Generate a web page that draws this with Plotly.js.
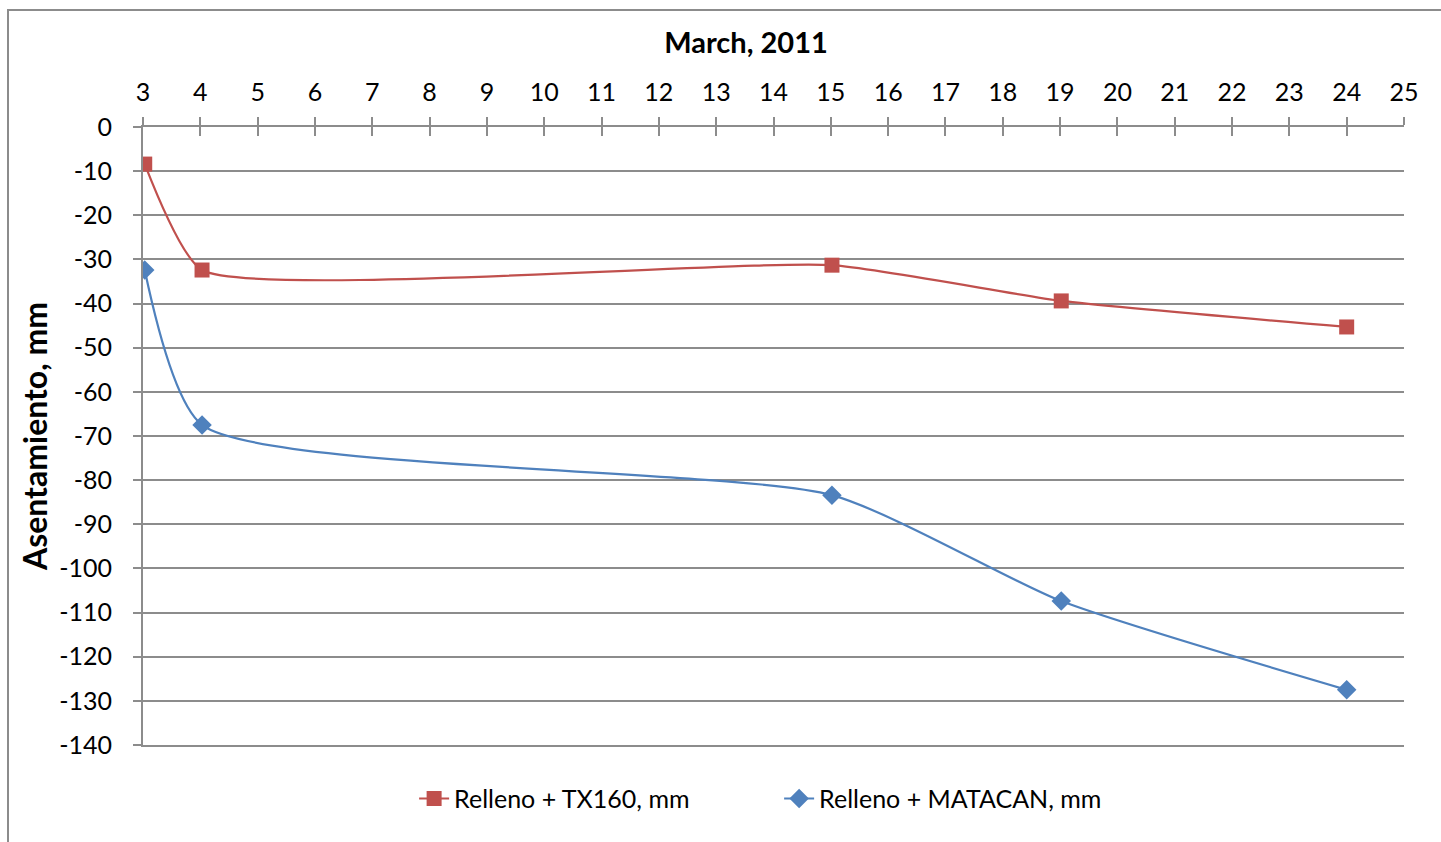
<!DOCTYPE html>
<html>
<head>
<meta charset="utf-8">
<script src="https://cdn.plot.ly/plotly-3.0.1.min.js"></script>
<style>
html,body{margin:0;padding:0;overflow:hidden;background:#fff;}
#frame{position:absolute;left:7px;top:9px;width:1600px;height:1000px;border:2px solid #8c8c8c;box-sizing:border-box;pointer-events:none;z-index:5;}
#chart{position:absolute;left:0;top:0;width:1441px;height:842px;}
</style>
</head>
<body>
<div id="chart"></div>
<div id="frame"></div>
<script>
// Data
const days = [3.03, 4.03, 15.02, 19.02, 24.0];
const tx160 = [-8.4, -32.4, -31.3, -39.4, -45.3];
const matacan = [-32.4, -67.5, -83.4, -107.4, -127.5];
const seriesNames = ['Relleno + TX160, mm', 'Relleno + MATACAN, mm'];
const xTickVals = [3,4,5,6,7,8,9,10,11,12,13,14,15,16,17,18,19,20,21,22,23,24,25];
const yTickVals = [0,-10,-20,-30,-40,-50,-60,-70,-80,-90,-100,-110,-120,-130,-140];
const yTickText = ['0','-10','-20','-30','-40','-50','-60','-70','-80','-90','-100','-110','-120','-130','-140'];

const FONT = 'Lato, "Open Sans", sans-serif';
const GRID = '#8c8c8c';

const traces = [
  {x: days, y: tx160, name: seriesNames[0], type: 'scatter', mode: 'lines+markers',
   line: {color: '#C0504D', width: 2.2, shape: 'spline', smoothing: 0.5},
   marker: {symbol: 'square', size: 15, color: '#C0504D'}},
  {x: days, y: matacan, name: seriesNames[1], type: 'scatter', mode: 'lines+markers',
   line: {color: '#4F81BD', width: 2.2, shape: 'spline', smoothing: 0.6},
   marker: {symbol: 'diamond', size: 15, color: '#4F81BD'}}
];

const layout = {
  width: 1441, height: 842,
  margin: {l: 143, r: 37, t: 127, b: 97},
  paper_bgcolor: 'rgba(0,0,0,0)', plot_bgcolor: '#fff',
  font: {family: FONT, size: 25, color: '#000'},
  title: {text: '<b>March, 2011</b>', font: {family: FONT, size: 29, color: '#000'},
          x: 746 / 1441, xanchor: 'center', xref: 'container',
          y: 1 - 43 / 842, yanchor: 'middle', yref: 'container'},
  showlegend: true,
  legend: {orientation: 'h', x: 0.215, xanchor: 'left', y: -0.087, yanchor: 'middle',
           font: {family: FONT, size: 25}, entrywidth: 320, entrywidthmode: 'pixels', tracegroupgap: 0},
  xaxis: {
    side: 'top', range: [3, 25], tickvals: xTickVals, ticktext: xTickVals.map(String),
    showgrid: false, zeroline: false, showline: true, linecolor: GRID, linewidth: 2,
    ticks: 'outside', ticklen: 8, tickwidth: 2, tickcolor: GRID,
    ticklabelstandoff: 6,
    fixedrange: true
  },
  xaxis2: {
    overlaying: 'x', side: 'top', anchor: 'y', range: [3, 25], tickvals: xTickVals,
    showticklabels: false, showgrid: false, zeroline: false, showline: false,
    ticks: 'inside', ticklen: 9, tickwidth: 2, tickcolor: GRID
  },
  xaxis3: {
    overlaying: 'x', side: 'bottom', anchor: 'y', range: [3, 25],
    showticklabels: false, showgrid: false, zeroline: false, ticks: '',
    showline: true, linecolor: GRID, linewidth: 2
  },
  yaxis: {
    range: [-140, 0], tickvals: yTickVals, ticktext: yTickText,
    showgrid: true, gridcolor: GRID, gridwidth: 2,
    zeroline: false, showline: true, linecolor: GRID, linewidth: 2,
    ticks: 'outside', ticklen: 8, tickwidth: 2, tickcolor: GRID,
    ticklabelstandoff: 16,
    title: {text: '<b>Asentamiento, mm</b>', font: {family: FONT, size: 32}, standoff: 2},
    fixedrange: true
  }
};

// invisible helper traces so the overlay axes (crossing ticks, bottom line) are drawn
traces.push({x: [3], y: [-200], xaxis: 'x2', yaxis: 'y', showlegend: false, hoverinfo: 'skip', mode: 'markers', marker: {opacity: 0}});
traces.push({x: [3], y: [-200], xaxis: 'x3', yaxis: 'y', showlegend: false, hoverinfo: 'skip', mode: 'markers', marker: {opacity: 0}});

Plotly.newPlot('chart', traces, layout, {displayModeBar: false, staticPlot: true});
</script>
</body>
</html>
